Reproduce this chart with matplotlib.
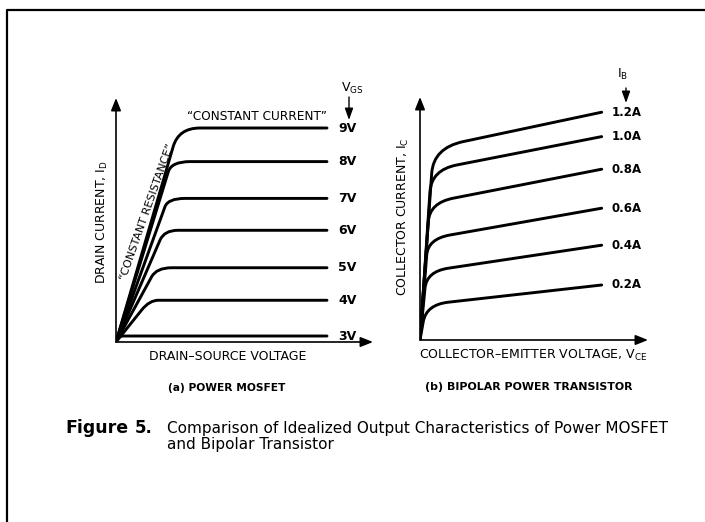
import numpy as np
import matplotlib
matplotlib.use("Agg")
import matplotlib.pyplot as plt
from matplotlib.path import Path
from matplotlib.patches import PathPatch, FancyArrowPatch
from matplotlib.lines import Line2D

plt.rcParams['font.family'] = ['DejaVu Sans']
plt.rcParams['mathtext.default'] = 'regular'

# ---------------- data (arbitrary units) ----------------
# (a) Power MOSFET: one curve per gate voltage
vgs_labels = ["9V", "8V", "7V", "6V", "5V", "4V", "3V"]
mos_level = [10.0, 8.43, 6.71, 5.22, 3.47, 1.95, 0.28]    # saturated drain current
mos_bend_x = [2.71, 2.48, 2.32, 2.09, 1.69, 1.22, 0.10]   # end of ohmic (straight) part
mos_bend_y = [9.13, 7.96, 6.32, 4.77, 3.05, 1.50, 0.19]
mos_flat_x = [3.98, 3.51, 3.27, 2.94, 2.64, 2.00, 0.38]   # start of flat part
mos_vmax = 10.0

# (b) Bipolar transistor: one curve per base current
ib_labels = ["1.2A", "1.0A", "0.8A", "0.6A", "0.4A", "0.2A"]
bjt_leave_x = [0.644, 0.55, 0.457, 0.369, 0.275, 0.18]    # leaves the saturation line
bjt_leave_y = [8.34, 7.42, 5.92, 4.25, 2.59, 0.92]
bjt_knee_x = [2.38, 2.02, 1.83, 1.65, 1.56, 1.56]         # start of the sloped active part
bjt_knee_y = [9.92, 8.75, 7.09, 5.25, 3.59, 1.89]
bjt_end_y = [11.39, 10.17, 8.54, 6.59, 4.74, 2.75]        # current at max V_CE
bjt_vmax = 10.0

# ---------------- figure ----------------
W, H = 705, 522
fig = plt.figure(figsize=(W / 100, H / 100), dpi=100)
fig.patch.set_facecolor('white')


def fx(x):
    return x / W


def fy(y):
    return 1 - y / H


LW = 2.1
AX_LW = 1.2

# frame around the figure (top and left edges)
fig.add_artist(Line2D([fx(7), fx(7), 1.0], [0.0, fy(10), fy(10)],
                      transform=fig.transFigure, color='black', lw=1.6))


def add_axes_px(x0, y0, x1, y1):
    ax = fig.add_axes([fx(x0), fy(y0), fx(x1) - fx(x0), fy(y1) - fy(y0)])
    ax.axis('off')
    return ax


def draw_arrows(ax):
    kw = dict(arrowstyle='-|>,head_length=0.75,head_width=0.3', color='black',
              lw=AX_LW, shrinkA=0, shrinkB=0, mutation_scale=10)
    ax.annotate('', xy=(0, 1), xytext=(0, 0), xycoords='axes fraction',
                textcoords='axes fraction', arrowprops=kw, annotation_clip=False)
    ax.annotate('', xy=(1, 0), xytext=(0, 0), xycoords='axes fraction',
                textcoords='axes fraction', arrowprops=kw, annotation_clip=False)


# ---------- (a) MOSFET ----------
axa = add_axes_px(116, 342, 373, 98)
axa.set_xlim(0, 257 / 21.1)
axa.set_ylim(0, 244 / 21.4)
draw_arrows(axa)
for lab, lev, bx, by, fxx in zip(vgs_labels, mos_level, mos_bend_x, mos_bend_y, mos_flat_x):
    cx = bx * lev / by
    verts = [(0, 0), (bx, by), (cx, lev), (fxx, lev), (mos_vmax, lev)]
    codes = [Path.MOVETO, Path.LINETO, Path.CURVE3, Path.CURVE3, Path.LINETO]
    axa.add_patch(PathPatch(Path(verts, codes), fill=False, lw=LW, ec='black',
                            capstyle='round', joinstyle='round'))
    axa.annotate(lab, xy=(mos_vmax, lev), xytext=(8, 0), textcoords='offset points',
                 ha='left', va='center', fontsize=9, fontweight='bold')

# ---------- (b) Bipolar ----------
axb = add_axes_px(420, 340, 648, 97)
axb.set_xlim(0, 228 / 18.17)
axb.set_ylim(0, 243 / 20.0)
draw_arrows(axb)
for lab, lx, ly, kx, ky, ey in zip(ib_labels, bjt_leave_x, bjt_leave_y,
                                   bjt_knee_x, bjt_knee_y, bjt_end_y):
    s1 = ly / lx
    s2 = (ey - ky) / (bjt_vmax - kx)
    cx = (ky - s2 * kx) / (s1 - s2)
    cy = s1 * cx
    verts = [(0, 0), (lx, ly), (cx, cy), (kx, ky), (bjt_vmax, ey)]
    codes = [Path.MOVETO, Path.LINETO, Path.CURVE3, Path.CURVE3, Path.LINETO]
    axb.add_patch(PathPatch(Path(verts, codes), fill=False, lw=LW, ec='black',
                            capstyle='round', joinstyle='round'))
    axb.annotate(lab, xy=(bjt_vmax, ey), xytext=(7, 0), textcoords='offset points',
                 ha='left', va='center', fontsize=8.5, fontweight='bold')

# ---------- texts ----------
fs = 9
fig.text(fx(102), fy(222), "DRAIN CURRENT, I$_\\mathregular{D}$", rotation=90,
         ha='center', va='center', fontsize=fs)
fig.text(fx(228), fy(356), "DRAIN\u2013SOURCE VOLTAGE", ha='center', va='center', fontsize=fs)
fig.text(fx(403.5), fy(217), "COLLECTOR CURRENT, I$_\\mathregular{C}$", rotation=90,
         ha='center', va='center', fontsize=fs)
fig.text(fx(533), fy(355), "COLLECTOR\u2013EMITTER VOLTAGE, V$_\\mathregular{CE}$",
         ha='center', va='center', fontsize=fs)
fig.text(fx(256.7), fy(116.7), "\u201cCONSTANT CURRENT\u201d", ha='center', va='center',
         fontsize=8.7)
fig.text(fx(147.5), fy(211.7), "\u201cCONSTANT RESISTANCE\u201d", rotation=70.5,
         rotation_mode='anchor', ha='center', va='center', fontsize=8)

# V_GS and I_B headers with arrows
fig.text(fx(352), fy(88), "V$_\\mathregular{GS}$", ha='center', va='center', fontsize=9)
fig.text(fx(623), fy(74), "I$_\\mathregular{B}$", ha='center', va='center', fontsize=9)
akw = dict(arrowstyle='-|>,head_length=0.7,head_width=0.25', color='black', lw=1.0,
           shrinkA=0, shrinkB=0, mutation_scale=10)
fig.add_artist(FancyArrowPatch((fx(349), fy(97)), (fx(349), fy(120)),
                               transform=fig.transFigure, **akw))
fig.add_artist(FancyArrowPatch((fx(626), fy(88)), (fx(626), fy(103)),
                               transform=fig.transFigure, **akw))

# sub captions
fig.text(fx(226.7), fy(388), "(a) POWER MOSFET", ha='center', va='center',
         fontsize=7.7, fontweight='bold')
fig.text(fx(528.3), fy(387), "(b) BIPOLAR POWER TRANSISTOR", ha='center', va='center',
         fontsize=7.9, fontweight='bold')

# figure caption
fig.text(fx(65), fy(428), "Figure", ha='left', va='center', fontsize=12.5, fontweight='bold')
fig.text(fx(135), fy(428), "5.", ha='left', va='center', fontsize=12, fontweight='bold')
fig.text(fx(167), fy(428),
         "Comparison of Idealized Output Characteristics of Power MOSFET",
         ha='left', va='center', fontsize=11)
fig.text(fx(167), fy(445), "and Bipolar Transistor", ha='left', va='center', fontsize=11)

fig.savefig("out.png", dpi=100, facecolor='white')
